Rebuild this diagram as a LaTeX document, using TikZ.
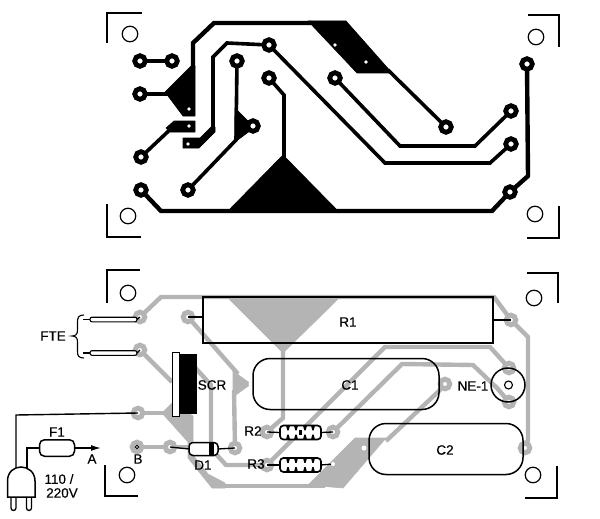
\documentclass[tikz,border=0pt]{standalone}
\usepackage{fontspec}
\setmainfont{Liberation Sans}
\newfontfamily\lblfont[FakeBold=0.4]{Liberation Sans}
\usetikzlibrary{arrows.meta}
\definecolor{pcbgray}{HTML}{B4B4B4}
\tikzset{
  x=1pt,y=-1pt,
  trk/.style={line width=4.4pt,line join=miter,black},
  thn/.style={line width=3.6pt,line join=miter,black},
  blob/.style={fill=black,draw=black,line width=.6pt,line join=round},
  pad/.style={circle,draw=black,fill=white,line width=4.8pt,minimum size=10.6pt,inner sep=0pt,outer sep=0pt},
  hole/.style={circle,fill=white,minimum size=3.8pt,inner sep=0pt,outer sep=0pt},
  gtrk/.style={line width=4.4pt,line join=miter,pcbgray},
  gblob/.style={fill=pcbgray,draw=pcbgray,line width=.6pt,line join=round},
  gpad/.style={circle,draw=pcbgray,fill=white,line width=5pt,minimum size=9.6pt,inner sep=0pt,outer sep=0pt},
  amark/.style={line width=1.6pt,black},
  mhole/.style={circle,draw=black,line width=1.2pt,minimum size=15.5pt,inner sep=0pt,outer sep=0pt},
  wire/.style={line width=1.4pt,black},
  lead/.style={line width=1.3pt,black},
  part/.style={draw=black,line width=1.5pt,rounded corners=17pt,inner sep=0pt,outer sep=0pt},
  lbl/.style={font=\lblfont\fontsize{13.5}{15}\selectfont,inner sep=0pt,black},
  res/.style={draw=black,fill=white,line width=1.7pt,rounded corners=3.5pt,minimum width=41pt,minimum height=14pt,inner sep=0pt,outer sep=0pt},
  probe/.style={draw=black,fill=white,line width=1.1pt,rounded corners=2pt,minimum width=47pt,minimum height=4.6pt,inner sep=0pt,outer sep=0pt},
}
\begin{document}
\begin{tikzpicture}
\useasboundingbox (0,0) rectangle (600,519);
% ---- top board: alignment marks
\draw[amark] (141.5,13) -- (107,13) -- (107,43);
\draw[amark] (141,237) -- (107,237) -- (107,204);
\draw[amark] (528,15) -- (559,15) -- (559,47);
\draw[amark] (527,238) -- (559,238) -- (559,206);
\node[mhole] (ht1) at (130,34) {};
\node[mhole] (ht2) at (128,216) {};
\node[mhole] (ht3) at (536,37) {};
\node[mhole] (ht4) at (535,214) {};
% ---- top board: pads
\node[pad] (p1) at (140,61) {};
\node[pad] (p2) at (172,61) {};
\node[pad] (p3) at (140,94) {};
\node[pad] (p4) at (141,157) {};
\node[pad] (p5) at (141,190) {};
\node[pad] (p6) at (188,190) {};
\node[pad] (p7) at (237,61) {};
\node[pad] (p8) at (269,45) {};
\node[pad] (p9) at (269,78) {};
\node[pad] (p10) at (335,78) {};
\node[pad] (p12) at (446,127) {};
\node[pad] (p13) at (511,111) {};
\node[pad] (p14) at (511,144) {};
\node[pad] (p15) at (510,192) {};
\node[pad] (p16) at (527,64) {};
% ---- top board: copper areas
\fill[blob] (165,92) -- (191,66) -- (195,66) -- (195,116) -- (183,116) -- cycle;
\fill[blob] (174,121) -- (195,121) -- (195,132) -- (170,132) -- (166,128) -- cycle;
\fill[blob] (183,138) -- (200,138) -- (211,127) -- (215,127) -- (215,132) -- (199,148) -- (183,148) -- cycle;
\fill[blob] (308,21) -- (346,21) -- (392,73) -- (357,73) -- cycle;
\fill[blob] (227,212) -- (283,155) -- (339,212) -- cycle;
\fill[blob] (235,108) -- (251,124) -- (251,130) -- (235,142) -- cycle;
% ---- top board: tracks
\draw[thn] (p1) -- (p2);
\draw[thn] (p3) -- (170,94);
\draw[trk] (193,67) -- (193,43) -- (214,23) -- (312,23);
\draw[thn] (p8) -- (227,43) -- (213,57) -- (213,128) -- (198,143);
\draw[thn] (p8) -- (385,163) -- (490,163) -- (p14);
\draw[thn] (p10) -- (400,146) -- (475,146) -- (p13);
\draw[thn] (p9) -- (284,95) -- (284,160);
\draw[thn] (p7) -- (236,140) -- (p6);
\draw[thn] (p4) -- (176,124);
\draw[thn] (388,70) -- (p12);
\draw[trk] (p5) -- (161,211) -- (492,211) -- (p15) -- (528,176) -- (p16);
\node[pad] (p11) at (253,126) {};
% ---- top board: drill holes
\node[hole] (h1) at (335,45) {};
\node[hole] (h2) at (366,62) {};
\node[hole] (h3) at (189,109) {};
\node[hole] (h4) at (189,126) {};
\node[hole] (h5) at (188,144) {};
% ---- bottom board: alignment marks
\draw[amark] (140,270) -- (107,270) -- (107,303);
\draw[amark] (138,496) -- (105,496) -- (105,465);
\draw[amark] (527,273) -- (558,273) -- (558,303);
\draw[amark] (525,498) -- (557,498) -- (557,466);
\node[mhole] (hb1) at (128,293) {};
\node[mhole] (hb2) at (127,475) {};
\node[mhole] (hb3) at (534,298) {};
\node[mhole] (hb4) at (533,475) {};
% ---- bottom board: pad nodes
\node[gpad] (a) at (140,317) {};
\node[gpad] (b) at (140,350) {};
\node[gpad] (c) at (138,413) {};
\node[gpad] (d) at (188,317) {};
\node[gpad] (e) at (137,447) {};
\node[gpad] (f) at (170,447) {};
\node[gpad] (g) at (235,448) {};
\node[gpad] (r2l) at (267,432) {};
\node[gpad] (r2r) at (333,432) {};
\node[gpad] (r3l) at (267,465) {};
\node[gpad] (r1r) at (511,320) {};
\node[gpad] (nt) at (509,368) {};
\node[gpad] (nb) at (509,402) {};
\node[gpad] (c1r) at (445,384) {};
\node[gpad] (c2r) at (525,448) {};
% ---- bottom board: copper areas
\fill[gblob] (228,298) -- (338,299) -- (283,353) -- cycle;
\fill[gblob] (233,371) -- (251,384) -- (233,397) -- cycle;
\fill[gblob] (162,413) -- (172,403) -- (193,416) -- (193,442) -- (188,442) -- cycle;
\fill[gblob] (188,442) -- (193,442) -- (193,455) -- (208,474) -- (225,483) -- (225,488) -- (212,488) -- (188,458) -- cycle;
\fill[gblob] (355,438) -- (386,438) -- (343,488) -- (308,485) -- cycle;
% ---- bottom board: tracks
\draw[gtrk] (a) -- (161,297) -- (494,297) -- (r1r) -- (528,337) -- (528,440) -- (c2r);
\draw[gtrk] (d) -- (238,374);
\draw[gtrk] (234,390) -- (g);
\draw[gtrk] (b) -- (172,382);
\draw[gtrk] (190,362) -- (211,385) -- (211,445);
\draw[gtrk] (c) -- (165,413);
\draw[gtrk] (e) -- (f);
\draw[gtrk] (f) -- (190,447);
\draw[gtrk] (215,453) -- (226,465) -- (r3l);
\draw[gtrk] (283,350) -- (283,418) -- (r2l);
\draw[gtrk] (r3l) -- (385,347) -- (490,347) -- (nt);
\draw[gtrk] (r2r) -- (402,364) -- (473,365) -- (497,388) -- (nb);
\draw[gtrk] (c1r) -- (440,390) -- (386,441);
\draw[gtrk] (222,486) -- (325,486);
% ---- bottom board: pad details
\node[circle,fill=white,minimum size=5pt,inner sep=0pt] (h6) at (251,384) {};
\node[circle,fill=white,minimum size=5pt,inner sep=0pt] (h7) at (364,448) {};
\node[circle,fill=white,minimum size=4pt,inner sep=0pt] (h8) at (333,464) {};
\node[circle,draw=black,line width=1pt,minimum size=3.5pt,inner sep=0pt,fill=white] (h9) at (137,447) {};
% ---- R1
\node[draw=black,line width=1.8pt,minimum width=290pt,minimum height=45.5pt,inner sep=0pt,outer sep=0pt] (r1) at (348,320) {};
\node[lbl] (r1t) at (348,322) {R1};
\draw[lead] (d.center) -- (r1.west |- d.center);
\draw[lead] (r1r.center) -- (r1.east |- r1r.center);
% ---- C1, C2
\node[part,minimum width=186pt,minimum height=51pt] (c1) at (346,384) {};
\node[lbl] (c1t) at (350,385) {C1};
\node[part,minimum width=154pt,minimum height=51pt] (c2) at (446,449) {};
\node[lbl] (c2t) at (445,450) {C2};
% ---- NE-1
\node[circle,draw=black,line width=1.5pt,minimum size=34pt,inner sep=0pt,outer sep=0pt] (ne) at (508,385) {};
\node[circle,draw=black,line width=1.1pt,minimum size=8pt,inner sep=0pt,outer sep=0pt] (nei) at (508.5,385) {};
\node[lbl] (net) at (473,386) {NE-1};
% ---- SCR
\fill[black] (179,354) rectangle (197,414);
\draw[draw=black,fill=white,line width=1pt] (172.5,352) rectangle (179,416);
\node[lbl] (scr) at (212,385) {SCR};
% ---- R2, R3
\foreach \nm/\yy in {r2b/432.5,r3b/465}{
  \node[res] (\nm) at (300.5,\yy) {};
  \foreach \xx in {288,296,305,313}{
    \fill[black] (\xx-2,\yy-7) -- (\xx+2,\yy-7) -- (\xx+.7,\yy-2.2) -- (\xx-.7,\yy-2.2) -- cycle;
    \fill[black] (\xx-2,\yy+7) -- (\xx+2,\yy+7) -- (\xx+.7,\yy+2.2) -- (\xx-.7,\yy+2.2) -- cycle;
  }
}
\fill[black] (299,430) rectangle (302,435);
\draw[lead] (r2l.center) -- (r2b.west);
\draw[lead] (r2b.east) -- (r2r.center);
\draw[lead] (r3l.center) -- (r3b.west);
\draw[lead] (r3b.east) -- (h8);
\node[lbl] (r2t) at (253,431) {R2};
\node[lbl] (r3t) at (256,464) {R3};
% ---- D1
\node[draw=black,fill=white,line width=1.5pt,rounded corners=4pt,minimum width=29pt,minimum height=13pt,inner sep=0pt,outer sep=0pt] (d1) at (203.5,449) {};
\fill[black] (209,443) rectangle (214,455);
\draw[lead] (f.center) -- (d1.west);
\draw[lead] (d1.east) -- (g.center);
\node[lbl] (d1t) at (203,465) {D1};
\node[lbl] (bt) at (138,459) {B};
% ---- FTE probes
\node[probe] (pr1) at (113.5,319.5) {};
\node[probe] (pr2) at (113.5,353) {};
\coordinate (pe1) at (83,319.5);
\coordinate (pe2) at (83,353);
\draw[lead] (pe1) -- (pr1.west);
\draw[lead] (pe2) -- (pr2.west);
\draw[lead] (pr1.east) -- (a.center);
\draw[lead] (pr2.east) -- (b.center);
\draw[line width=1.1pt] (84,315) .. controls (79,315) and (77.5,317) .. (77.5,322) -- (77.5,330) .. controls (77.5,334) and (76,336) .. (72,336) .. controls (76,336) and (77.5,338) .. (77.5,342) -- (77.5,352) .. controls (77.5,356) and (79,358) .. (84,358);
\node[lbl] (fte) at (53,336) {FTE};
% ---- mains plug and fuse
\draw[line width=1.3pt,fill=white] (11,497) -- (11,508) arc[start angle=180,end angle=0,radius=2.5] -- (16,497);
\draw[line width=1.3pt,fill=white] (26.5,497) -- (26.5,508) arc[start angle=180,end angle=0,radius=2.5] -- (31.5,497);
\node[draw=black,fill=white,line width=1.5pt,rounded corners=5pt,minimum width=35pt,minimum height=16.5pt,inner sep=0pt,outer sep=0pt] (f1) at (57,448) {};
\draw[draw=black,fill=white,line width=1.5pt] (7.5,497) -- (7.5,481) .. controls (7.5,472) and (14,467) .. (21,467) .. controls (28,467) and (35,472) .. (35,481) -- (35,497) -- cycle;
\coordinate (plugL) at (16,467);
\coordinate (plugR) at (27,468);
\coordinate (arrA) at (101,448);
\draw[wire] (c.center) -- (16,415) -- (plugL);
\draw[wire] (plugR) -- (27,448) -- (f1.west);
\draw[wire,-{Latex[length=10pt,width=6pt]}] (f1.east) -- (arrA);
\node[lbl] (f1t) at (57,432) {F1};
\node[lbl] (at) at (92,459) {A};
\node[lbl] (v1) at (59,479) {110 /};
\node[lbl] (v2) at (62,493) {220V};
\end{tikzpicture}
\end{document}
